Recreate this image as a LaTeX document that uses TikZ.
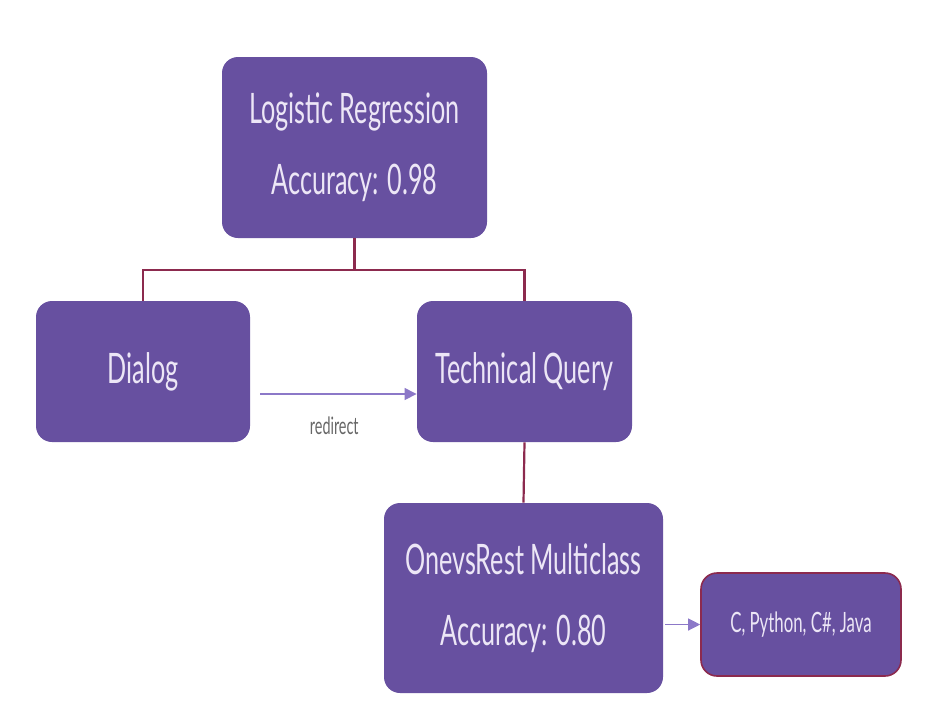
\documentclass[tikz,border=0pt]{standalone}
\usepackage{fontspec}
\setmainfont{Lato}[FakeStretch=0.6]
\usetikzlibrary{arrows.meta}

\definecolor{boxfill}{RGB}{103,80,160}
\definecolor{boxtext}{RGB}{236,230,246}
\definecolor{linkred}{RGB}{140,42,78}
\definecolor{arrowlav}{RGB}{140,120,200}

\tikzset{
	classbox/.style={draw=none,fill=boxfill,rounded corners=8pt,text=boxtext,
		align=center,inner sep=0pt,font=\fontsize{21}{35.5}\selectfont},
	outbox/.style={classbox,draw=linkred,line width=0.8pt,font=\fontsize{14}{17}\selectfont},
	tree/.style={draw=linkred,line width=1.1pt},
	flow/.style={draw=arrowlav,line width=0.6pt,-{Triangle[length=6pt,width=6pt]}}
}

\begin{document}
\begin{tikzpicture}[x=0.5pt,y=-0.5pt]
	\useasboundingbox (0,0) rectangle (933,714);

	\node[classbox,minimum width=132.5pt,minimum height=90.5pt] (logreg) at (354.5,147.5) {Logistic Regression\\Accuracy: 0.98};
	\node[classbox,minimum width=107pt,minimum height=70.5pt] (dialog) at (143,371.5) {Dialog};
	\node[classbox,minimum width=107.5pt,minimum height=70.5pt] (techquery) at (524.5,371.5) {Technical Query};
	\node[classbox,minimum width=139.5pt,minimum height=95pt] (onevsrest) at (523.5,598) {OnevsRest Multiclass\\Accuracy: 0.80};
	\node[outbox,minimum width=100pt,minimum height=51.5pt] (languages) at (801,624.5) {C, Python, C\#, Java};

	% tree from the first classifier
	\coordinate (split) at (354.5,270);
	\draw[tree] (logreg.south) -- (split);
	\draw[tree] (dialog.north) |- (split) -| (techquery.north);
	\draw[tree] (techquery.south) -- (onevsrest.north);

	% redirect and output
	\coordinate (redirstart) at (260,394);
	\draw[flow] (redirstart) -- (techquery.west |- redirstart) node[midway,below=8pt,xshift=-2pt,text=black!60,font=\fontsize{12}{14}\selectfont] (redirlabel) {redirect};
	\draw[flow] ([xshift=1pt]onevsrest.east |- languages) -- (languages.west);
\end{tikzpicture}
\end{document}
